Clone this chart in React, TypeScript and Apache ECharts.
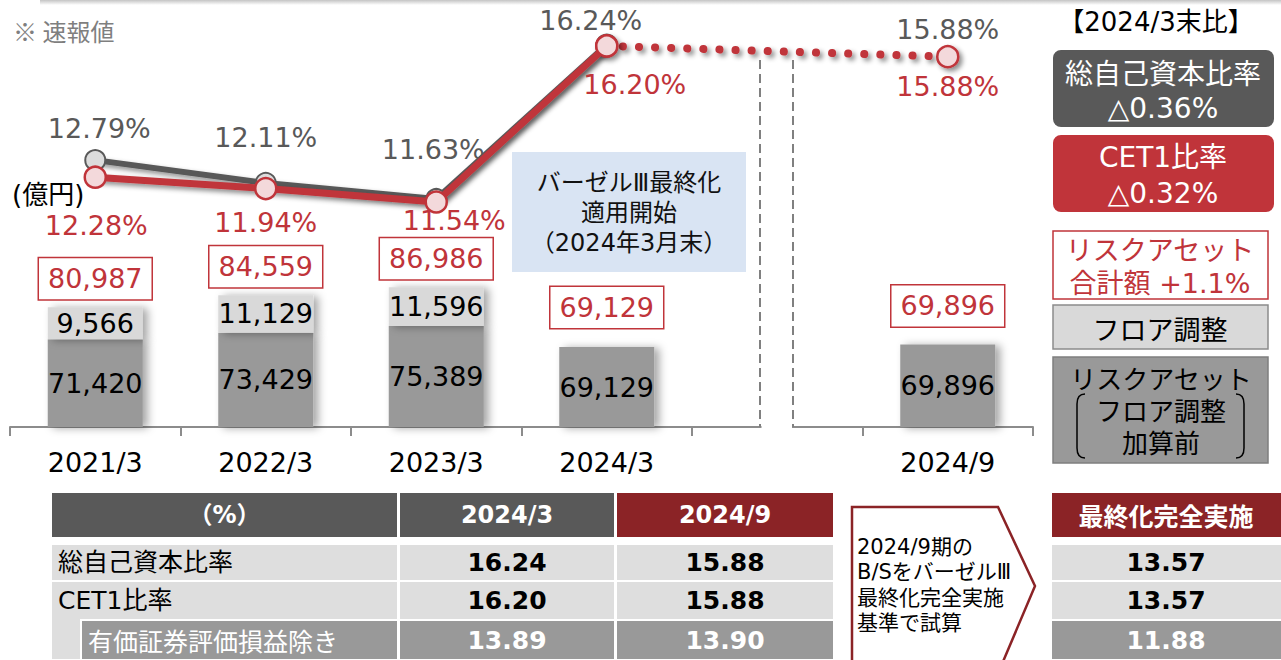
import { useEffect, useRef } from "react";
import * as echarts from "echarts";

// ---------- data ----------
const categories = ["2021/3", "2022/3", "2023/3", "2024/3", "", "2024/9"];
const baseRwa = [71420, 73429, 75389, 69129, null, 69896];
const floorAdj = [9566, 11129, 11596, null, null, null];
const totalRwa = [80987, 84559, 86986, 69129, null, 69896];
const totalCapitalRatio = [12.79, 12.11, 11.63, 16.24, null, 15.88];
const cet1Ratio = [12.28, 11.94, 11.54, 16.2, null, 15.88];

const tableHeaders = ["（%）", "2024/3", "2024/9"];
const tableRows = ["総自己資本比率", "CET1比率", "有価証券評価損益除き"];
const ratiosMar24 = ["16.24", "16.20", "13.89"];
const ratiosSep24 = ["15.88", "15.88", "13.90"];
const fullImplHeader = "最終化完全実施";
const fullImplRatios = ["13.57", "13.57", "11.88"];

const deltaTitle = "【2024/3末比】";
const deltaTotal = ["総自己資本比率", "△0.36%"];
const deltaCet1 = ["CET1比率", "△0.32%"];
const deltaRwa = ["リスクアセット", "合計額 +1.1%"];
const legendFloor = "フロア調整";
const legendBase = ["リスクアセット", "フロア調整", "加算前"];
const baselNote = ["バーゼルⅢ最終化", "適用開始", "（2024年3月末）"];
const chevronNote = ["2024/9期の", "B/SをバーゼルⅢ", "最終化完全実施", "基準で試算"];

// ---------- layout / style ----------
const FONT = "'DejaVu Sans', 'Noto Sans CJK JP', sans-serif";
const CJK = "'Noto Sans CJK JP', 'DejaVu Sans', sans-serif";
const RED = "#c0343a";
const DARKRED = "#8b2326";
const DGRAY = "#595959";
const BARDARK = "#999999";
const BARLIGHT = "#d9d9d9";
const ROWLIGHT = "#dedede";

const grayLabelOffsets = [[4, -32], [0, -45], [-3, -49], [-16, -24], [0, 0], [0, -27]];
const redLabelOffsets = [[1, 48], [0, 34], [18, 19], [28, 39], [0, 0], [0, 30]];
const totalLabelGaps = [8, 8, 8, 19, 0, 18];

echarts.graphic.registerShape(
  "bracketL",
  echarts.graphic.extendPath("M 8 0 Q 0 0 0 10 L 0 54 Q 0 64 8 64", {})
);
echarts.graphic.registerShape(
  "bracketR",
  echarts.graphic.extendPath("M 0 0 Q 8 0 8 10 L 8 54 Q 8 64 0 64", {})
);

const txt = (x: number, y: number, t: string, size: number, fill: string, opts: any = {}) => ({
  type: "text",
  x,
  y,
  z: 110,
  style: {
    text: t,
    fill,
    font: `${opts.bold ? "bold " : ""}${size}px ${opts.family || FONT}`,
    lineHeight: opts.lineHeight,
    textAlign: opts.align || "center",
    textVerticalAlign: "middle",
    align: opts.align || "center",
    verticalAlign: "middle",
  },
});

const box = (x: number, y: number, w: number, h: number, fill: string, extra: any = {}) => ({
  type: "rect",
  z: 100,
  shape: { x, y, width: w, height: h, r: extra.r || 0 },
  style: { fill, stroke: extra.stroke || null, lineWidth: extra.lineWidth || 0 },
});

function buildGraphics() {
  const g: any[] = [];
  // top shadow strip
  g.push({
    type: "rect",
    z: 100,
    shape: { x: 40, y: 0, width: 1241, height: 5 },
    style: {
      fill: {
        type: "linear", x: 0, y: 0, x2: 0, y2: 1,
        colorStops: [{ offset: 0, color: "#c4c4c4" }, { offset: 1, color: "#ffffff" }],
      },
    },
  });
  g.push(txt(13, 30, "※ 速報値", 24, "#7f7f7f", { align: "left", family: CJK }));
  g.push(txt(12, 195, "(億円)", 26, "#000", { align: "left" }));

  // axis break
  g.push(box(761.5, 418, 30.5, 20, "#ffffff"));
  const dashStyle = { stroke: "#808080", lineWidth: 2, lineDash: [9, 5] };
  g.push({ type: "line", z: 101, shape: { x1: 760, y1: 60, x2: 760, y2: 427 }, style: dashStyle });
  g.push({ type: "line", z: 101, shape: { x1: 793, y1: 60, x2: 793, y2: 427 }, style: dashStyle });

  // basel box
  g.push(box(512, 152, 234, 120, "#d9e4f3"));
  g.push(txt(629, 213, baselNote.join("\n"), 24, "#111", { lineHeight: 30 }));

  // right panel
  g.push(txt(1156, 22, deltaTitle, 26, "#000"));
  g.push(box(1053, 50, 221, 77, DGRAY, { r: 8 }));
  g.push(txt(1163, 72, deltaTotal[0], 28, "#fff", { family: CJK }));
  g.push(txt(1163, 108, deltaTotal[1], 28, "#fff"));
  g.push(box(1053, 135, 221, 77, RED, { r: 8 }));
  g.push(txt(1163, 157, deltaCet1[0], 28, "#fff"));
  g.push(txt(1163, 193, deltaCet1[1], 28, "#fff"));
  g.push(box(1053, 231, 215, 68, "#fff", { stroke: RED, lineWidth: 1.5 }));
  g.push(txt(1160, 250, deltaRwa[0], 27, RED));
  g.push(txt(1160, 283, deltaRwa[1], 27, RED));
  g.push(box(1053, 305, 215, 44, BARLIGHT, { stroke: "#8c8c8c", lineWidth: 1.5 }));
  g.push(txt(1160, 328, legendFloor, 27, "#000", { family: CJK }));
  g.push(box(1053, 357, 215, 106, BARDARK, { stroke: "#7f7f7f", lineWidth: 1.5 }));
  g.push(txt(1161, 412, legendBase.join("\n"), 26, "#000", { lineHeight: 32 }));
  g.push({ type: "bracketL", z: 110, x: 1077, y: 394, style: { stroke: "#000", fill: "none", lineWidth: 1.5 } });
  g.push({ type: "bracketR", z: 110, x: 1236, y: 394, style: { stroke: "#000", fill: "none", lineWidth: 1.5 } });

  // left table
  const colX = [52, 400, 617];
  const colW = [345, 214, 216];
  const rowY = [545, 582, 621];
  const rowH = [35, 37, 38];
  const headFill = [DGRAY, DGRAY, DARKRED];
  tableHeaders.forEach((h, c) => {
    g.push(box(colX[c], 493, colW[c], 44, headFill[c]));
    g.push(txt(colX[c] + colW[c] / 2, 515, h, 24, "#fff", { bold: true }));
  });
  tableRows.forEach((r, i) => {
    const last = i === 2;
    const fill = last ? BARDARK : ROWLIGHT;
    const color = last ? "#fff" : "#000";
    if (last) {
      g.push(box(52, 619, 28, 40, ROWLIGHT));
      g.push(box(82, rowY[i], 315, rowH[i], fill));
      g.push(txt(88, rowY[i] + rowH[i] / 2, r, 25, color, { align: "left", family: CJK }));
    } else {
      g.push(box(52, rowY[i], 345, rowH[i], fill));
      g.push(txt(58, rowY[i] + rowH[i] / 2, r, 25, color, { align: "left" }));
    }
    g.push(box(400, rowY[i], 214, rowH[i], fill));
    g.push(box(617, rowY[i], 216, rowH[i], fill));
    g.push(txt(507, rowY[i] + rowH[i] / 2, ratiosMar24[i], 25, color, { bold: true }));
    g.push(txt(725, rowY[i] + rowH[i] / 2, ratiosSep24[i], 25, color, { bold: true }));
  });

  // chevron
  g.push({
    type: "polygon",
    z: 100,
    shape: { points: [[852, 507], [998, 507], [1035, 586], [1002, 664], [852, 664]] },
    style: { fill: "#fff", stroke: DARKRED, lineWidth: 2.5 },
  });
  g.push(txt(857, 585, chevronNote.join("\n"), 21, "#000", { align: "left", lineHeight: 25.3 }));

  // right table
  g.push(box(1052, 493, 229, 44, DARKRED));
  g.push(txt(1166, 515, fullImplHeader, 25, "#fff", { bold: true, family: CJK }));
  fullImplRatios.forEach((v, i) => {
    const last = i === 2;
    g.push(box(1052, rowY[i], 229, rowH[i], last ? BARDARK : ROWLIGHT));
    g.push(txt(1166, rowY[i] + rowH[i] / 2, v, 25, last ? "#fff" : "#000", { bold: true }));
  });
  return g;
}

const fmt = (v: number) => v.toLocaleString("en-US");
const lineShadow = { shadowColor: "rgba(0,0,0,0.45)", shadowBlur: 5, shadowOffsetX: 3, shadowOffsetY: 3 };

export default function App() {
  const ref = useRef<HTMLDivElement>(null);
  useEffect(() => {
    if (!ref.current) return;
    const chart = echarts.init(ref.current, null, { renderer: "svg" });
    const barShadow = { shadowColor: "rgba(0,0,0,0.35)", shadowBlur: 8, shadowOffsetX: 5, shadowOffsetY: 1 };
    const grayData = totalCapitalRatio.map((v, i) =>
      v == null ? "-" : { value: v, label: { offset: grayLabelOffsets[i] } }
    );
    const redSolid = cet1Ratio.map((v, i) =>
      v == null || i > 3 ? "-" : { value: v, label: { offset: redLabelOffsets[i] } }
    );
    const redDotted = cet1Ratio.map((v, i) =>
      v == null || i < 3 ? "-" : { value: v, label: { show: i !== 3, offset: redLabelOffsets[i] } }
    );
    const option: any = {
      animation: false,
      grid: { left: 10, top: 0, width: 1023, height: 427 },
      xAxis: {
        type: "category",
        data: categories,
        axisLine: { lineStyle: { color: "#8c8c8c", width: 2 } },
        axisTick: { show: true, length: 9, lineStyle: { color: "#8c8c8c", width: 2 } },
        axisLabel: { color: "#000", fontSize: 27, fontFamily: FONT, margin: 22 },
        splitLine: { show: false },
      },
      yAxis: [
        { type: "value", min: 45300, max: 172573, show: false, splitLine: { show: false } },
        { type: "value", min: 4.82, max: 17.573, show: false, splitLine: { show: false } },
      ],
      series: [
        {
          type: "bar",
          stack: "rwa",
          data: baseRwa,
          barWidth: 95,
          itemStyle: { color: BARDARK, ...barShadow },
          label: {
            show: true, position: "inside", color: "#000", fontSize: 27, fontFamily: FONT,
            formatter: (p: any) => fmt(p.value),
          },
        },
        {
          type: "bar",
          stack: "rwa",
          data: floorAdj,
          barWidth: 95,
          itemStyle: { color: BARLIGHT, ...barShadow },
          label: {
            show: true, position: "inside", color: "#000", fontSize: 27, fontFamily: FONT,
            formatter: (p: any) => fmt(p.value),
          },
        },
        {
          type: "scatter",
          symbolSize: 0,
          itemStyle: { opacity: 1 },
          data: totalRwa.map((v, i) => (v == null ? "-" : { value: v, label: { distance: totalLabelGaps[i] } })),
          label: {
            show: true, position: "top", color: RED, fontSize: 27, fontFamily: FONT, lineHeight: 33,
            backgroundColor: "#fff", borderColor: RED, borderWidth: 1.5, padding: [4, 9, 4, 9], opacity: 1,
            formatter: (p: any) => fmt(p.value),
          },
          z: 5,
        },
        {
          type: "line",
          yAxisIndex: 1,
          data: grayData,
          symbol: "circle",
          symbolSize: 20,
          lineStyle: { color: DGRAY, width: 6, ...lineShadow },
          itemStyle: { color: "#dcdcdc", borderColor: DGRAY, borderWidth: 2 },
          label: { show: true, position: "inside", color: DGRAY, fontSize: 27, fontFamily: FONT, formatter: (p: any) => p.value.toFixed(2) + "%" },
          z: 6,
        },
        {
          type: "line",
          yAxisIndex: 1,
          data: redDotted,
          connectNulls: true,
          symbol: "circle",
          symbolSize: 21,
          lineStyle: { color: RED, width: 8, type: [0.1, 16], cap: "round", ...lineShadow },
          itemStyle: { color: "#f3d9db", borderColor: RED, borderWidth: 2.5, ...lineShadow },
          label: { show: true, position: "inside", color: RED, fontSize: 27, fontFamily: FONT, formatter: (p: any) => p.value.toFixed(2) + "%" },
          z: 7,
        },
        {
          type: "line",
          yAxisIndex: 1,
          data: redSolid,
          symbol: "circle",
          symbolSize: 21,
          lineStyle: { color: RED, width: 7, ...lineShadow },
          itemStyle: { color: "#f3d9db", borderColor: RED, borderWidth: 2.5 },
          label: { show: true, position: "inside", color: RED, fontSize: 27, fontFamily: FONT, formatter: (p: any) => p.value.toFixed(2) + "%" },
          z: 8,
        },
      ],
      graphic: buildGraphics(),
    };
    chart.setOption(option);
    return () => chart.dispose();
  }, []);
  return (
    <div
      ref={ref}
      style={{ position: "absolute", left: 0, top: 0, width: 1281, height: 660, background: "#fff" }}
    />
  );
}
